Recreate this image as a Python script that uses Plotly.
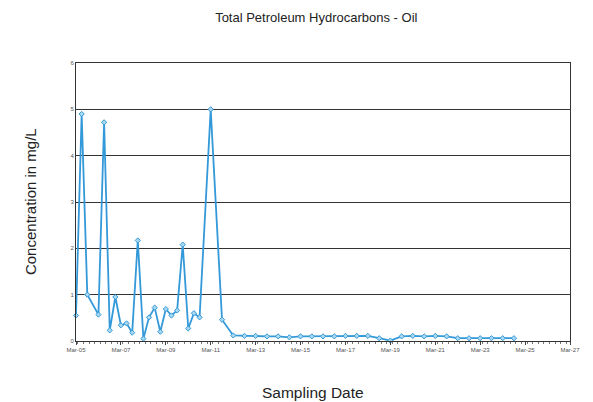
import plotly.graph_objects as go

dates = [
    "2005-03-01", "2005-06-01", "2005-09-01", "2006-03-01", "2006-06-01",
    "2006-09-01", "2006-12-01", "2007-03-01", "2007-06-01", "2007-09-01",
    "2007-12-01", "2008-03-01", "2008-06-01", "2008-09-01", "2008-12-01",
    "2009-03-01", "2009-06-01", "2009-09-01", "2009-12-01", "2010-03-01",
    "2010-06-01", "2010-09-01", "2011-03-01", "2011-09-01",
    "2012-03-01", "2012-09-01", "2013-03-01", "2013-09-01", "2014-03-01",
    "2014-09-01", "2015-03-01", "2015-09-01", "2016-03-01", "2016-09-01",
    "2017-03-01", "2017-09-01", "2018-03-01", "2018-09-01", "2019-03-01",
    "2019-09-01", "2020-03-01", "2020-09-01", "2021-03-01", "2021-09-01",
    "2022-03-01", "2022-09-01", "2023-03-01", "2023-09-01", "2024-03-01",
    "2024-09-01",
]
values = [
    0.55, 4.9, 1.0, 0.57, 4.72,
    0.23, 0.95, 0.34, 0.38, 0.18,
    2.17, 0.05, 0.51, 0.72, 0.2,
    0.69, 0.55, 0.66, 2.08, 0.27,
    0.6, 0.51, 5.0, 0.46,
    0.12, 0.11, 0.11, 0.1, 0.1,
    0.08, 0.1, 0.1, 0.1, 0.1,
    0.11, 0.11, 0.11, 0.06, 0.01,
    0.1, 0.11, 0.1, 0.11, 0.1,
    0.06, 0.06, 0.06, 0.06, 0.06,
    0.06,
]

title_text = "Total Petroleum Hydrocarbons - Oil"
y_title = "Concentration in mg/L"
x_title = "Sampling Date"

fig = go.Figure()
fig.add_trace(go.Scatter(
    x=dates, y=values, mode="lines+markers",
    line=dict(color="#3399d8", width=1.8),
    marker=dict(symbol="diamond", size=4, color="#a9d8f2",
                line=dict(color="#3399d8", width=1)),
    showlegend=False, cliponaxis=False,
))

fig.update_layout(
    width=585, height=394,
    margin=dict(l=68, r=23, t=55, b=61),
    paper_bgcolor="white", plot_bgcolor="white",
    font=dict(family="Liberation Sans, Arial, sans-serif", color="#222"),
    title=dict(text=title_text, x=0.527, xanchor="center", y=0.977, yanchor="middle",
               font=dict(size=13, color="#222")),
    annotations=[
        dict(text=y_title, xref="paper", yref="paper", x=-0.093, y=0.5,
             xanchor="center", yanchor="middle", textangle=-90, showarrow=False,
             font=dict(size=15, color="#222")),
        dict(text=x_title, xref="paper", yref="paper", x=0.48, y=-0.187,
             xanchor="center", yanchor="middle", showarrow=False,
             font=dict(size=15.5, color="#222")),
    ],
)
fig.update_xaxes(
    type="date", range=["2005-03-01", "2027-03-01"],
    tick0="2005-03-01", dtick="M24", tickformat="%b-%y",
    showgrid=False, showline=True, linecolor="#333", linewidth=1,
    ticks="outside", ticklen=3, tickcolor="#444",
    minor=dict(dtick="M3", ticks="outside", ticklen=2, tickcolor="#777"),
    tickfont=dict(size=6, color="#555"),
    automargin=False, mirror=True,
)
fig.update_yaxes(
    range=[0, 6], dtick=1, tickformat="d",
    showgrid=True, gridcolor="#333", gridwidth=1,
    showline=True, linecolor="#333", linewidth=1, mirror=True,
    zeroline=False, automargin=False,
    tickfont=dict(size=6, color="#555"),
)

fig.write_html("out.html")
